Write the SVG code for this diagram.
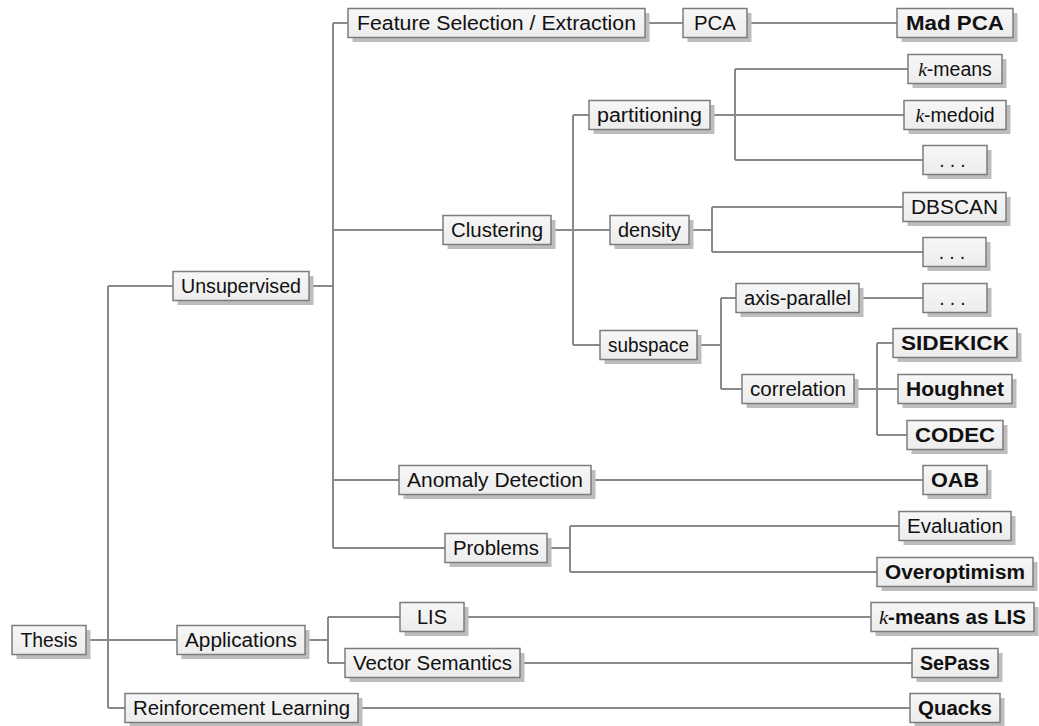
<svg xmlns="http://www.w3.org/2000/svg" width="1039" height="726" viewBox="0 0 1039 726">
<defs>
<linearGradient id="fillg" x1="0" y1="0" x2="0" y2="1">
<stop offset="0" stop-color="#f7f7f7"/>
<stop offset="1" stop-color="#ececec"/>
</linearGradient>
</defs>
<style>
.sh{fill:#bdbdbd}
.bx{fill:url(#fillg);stroke:#7c7c7c;stroke-width:1.5}
.t{font-family:"Liberation Sans",Arial,sans-serif;font-size:19.5px;fill:#111;text-anchor:middle}
.b{font-weight:bold}
.m{font-family:"Liberation Serif","Times New Roman",serif;font-style:italic;font-weight:normal}
.c{fill:none;stroke:#8a8a8a;stroke-width:2}
</style>
<rect width="1039" height="726" fill="#fff"/>
<g id="connectors" class="c">
<path d="M86 640H108M108 286V708M108 286H173M108 640H177M108 708H125"/>
<path d="M309 286H333M333 23V548M333 23H348M333 230H443M333 480H399M333 548H445"/>
<path d="M305 640H328M328 617V663M328 617H400M328 663H345"/>
<path d="M358 708H910"/>
<path d="M645 23H683M747 23H897"/>
<path d="M551 230H573M573 115V345M573 115H589M573 230H610M573 345H600"/>
<path d="M710 115H735M735 69V160M735 69H908M735 115H904M735 160H923"/>
<path d="M689 230H712M712 207V252M712 207H903M712 252H923"/>
<path d="M697 345H721M721 298V389M721 298H736M721 389H742"/>
<path d="M859 298H923"/>
<path d="M854 389H877M877 343V435M877 343H893M877 389H898M877 435H907"/>
<path d="M591 480H923"/>
<path d="M547 548H570M570 526V572M570 526H899M570 572H877"/>
<path d="M464 617H871"/>
<path d="M520 663H912"/>
</g>
<g id="thesis"><rect class="sh" x="16.5" y="630" width="74" height="29"/><rect class="bx" x="12" y="625.5" width="74" height="29"/><text class="t" x="49" y="647" textLength="57" lengthAdjust="spacingAndGlyphs">Thesis</text></g>
<g id="unsupervised"><rect class="sh" x="177.5" y="276" width="136" height="29"/><rect class="bx" x="173" y="271.5" width="136" height="29"/><text class="t" x="241" y="293" textLength="120" lengthAdjust="spacingAndGlyphs">Unsupervised</text></g>
<g id="applications"><rect class="sh" x="181.5" y="630" width="128" height="29"/><rect class="bx" x="177" y="625.5" width="128" height="29"/><text class="t" x="241" y="647" textLength="112" lengthAdjust="spacingAndGlyphs">Applications</text></g>
<g id="reinforcement"><rect class="sh" x="129.5" y="698" width="233" height="29"/><rect class="bx" x="125" y="693.5" width="233" height="29"/><text class="t" x="241.5" y="715" textLength="217" lengthAdjust="spacingAndGlyphs">Reinforcement Learning</text></g>
<g id="featsel"><rect class="sh" x="352.5" y="13" width="297" height="29"/><rect class="bx" x="348" y="8.5" width="297" height="29"/><text class="t" x="496.5" y="30" textLength="279" lengthAdjust="spacingAndGlyphs">Feature Selection / Extraction</text></g>
<g id="pca"><rect class="sh" x="687.5" y="13" width="64" height="29"/><rect class="bx" x="683" y="8.5" width="64" height="29"/><text class="t" x="715" y="30" textLength="42" lengthAdjust="spacingAndGlyphs">PCA</text></g>
<g id="madpca"><rect class="sh" x="901.5" y="13" width="116" height="29"/><rect class="bx" x="897" y="8.5" width="116" height="29"/><text class="t b" x="955" y="30" textLength="98" lengthAdjust="spacingAndGlyphs">Mad PCA</text></g>
<g id="clustering"><rect class="sh" x="447.5" y="220" width="108" height="29"/><rect class="bx" x="443" y="215.5" width="108" height="29"/><text class="t" x="497" y="237" textLength="92" lengthAdjust="spacingAndGlyphs">Clustering</text></g>
<g id="partitioning"><rect class="sh" x="593.5" y="105" width="121" height="29"/><rect class="bx" x="589" y="100.5" width="121" height="29"/><text class="t" x="649.5" y="122" textLength="105" lengthAdjust="spacingAndGlyphs">partitioning</text></g>
<g id="density"><rect class="sh" x="614.5" y="220" width="79" height="29"/><rect class="bx" x="610" y="215.5" width="79" height="29"/><text class="t" x="649.5" y="237" textLength="63" lengthAdjust="spacingAndGlyphs">density</text></g>
<g id="subspace"><rect class="sh" x="604.5" y="335" width="97" height="29"/><rect class="bx" x="600" y="330.5" width="97" height="29"/><text class="t" x="648.5" y="352" textLength="81" lengthAdjust="spacingAndGlyphs">subspace</text></g>
<g id="kmeans"><rect class="sh" x="912.5" y="59" width="94" height="29"/><rect class="bx" x="908" y="54.5" width="94" height="29"/><text class="t" x="955" y="76"><tspan class="m">k</tspan>-means</text></g>
<g id="kmedoid"><rect class="sh" x="908.5" y="105" width="102" height="29"/><rect class="bx" x="904" y="100.5" width="102" height="29"/><text class="t" x="955" y="122"><tspan class="m">k</tspan>-medoid</text></g>
<g id="dots1"><rect class="sh" x="927.5" y="150" width="64" height="29"/><rect class="bx" x="923" y="145.5" width="64" height="29"/><text class="t" x="955" y="167" letter-spacing="5">...</text></g>
<g id="dbscan"><rect class="sh" x="907.5" y="197" width="103" height="29"/><rect class="bx" x="903" y="192.5" width="103" height="29"/><text class="t" x="954.5" y="214" textLength="87" lengthAdjust="spacingAndGlyphs">DBSCAN</text></g>
<g id="dots2"><rect class="sh" x="927.5" y="242" width="63" height="29"/><rect class="bx" x="923" y="237.5" width="63" height="29"/><text class="t" x="954.5" y="259" letter-spacing="5">...</text></g>
<g id="axisparallel"><rect class="sh" x="740.5" y="288" width="123" height="29"/><rect class="bx" x="736" y="283.5" width="123" height="29"/><text class="t" x="797.5" y="305" textLength="107" lengthAdjust="spacingAndGlyphs">axis-parallel</text></g>
<g id="dots3"><rect class="sh" x="927.5" y="288" width="64" height="29"/><rect class="bx" x="923" y="283.5" width="64" height="29"/><text class="t" x="955" y="305" letter-spacing="5">...</text></g>
<g id="correlation"><rect class="sh" x="746.5" y="379" width="112" height="29"/><rect class="bx" x="742" y="374.5" width="112" height="29"/><text class="t" x="798" y="396" textLength="96" lengthAdjust="spacingAndGlyphs">correlation</text></g>
<g id="sidekick"><rect class="sh" x="897.5" y="333" width="124" height="29"/><rect class="bx" x="893" y="328.5" width="124" height="29"/><text class="t b" x="955" y="350" textLength="108" lengthAdjust="spacingAndGlyphs">SIDEKICK</text></g>
<g id="houghnet"><rect class="sh" x="902.5" y="379" width="114" height="29"/><rect class="bx" x="898" y="374.5" width="114" height="29"/><text class="t b" x="955" y="396" textLength="98" lengthAdjust="spacingAndGlyphs">Houghnet</text></g>
<g id="codec"><rect class="sh" x="911.5" y="425" width="96" height="29"/><rect class="bx" x="907" y="420.5" width="96" height="29"/><text class="t b" x="955" y="442" textLength="80" lengthAdjust="spacingAndGlyphs">CODEC</text></g>
<g id="anomaly"><rect class="sh" x="403.5" y="470" width="192" height="29"/><rect class="bx" x="399" y="465.5" width="192" height="29"/><text class="t" x="495" y="487" textLength="176" lengthAdjust="spacingAndGlyphs">Anomaly Detection</text></g>
<g id="oab"><rect class="sh" x="927.5" y="470" width="64" height="29"/><rect class="bx" x="923" y="465.5" width="64" height="29"/><text class="t b" x="955" y="487" textLength="48" lengthAdjust="spacingAndGlyphs">OAB</text></g>
<g id="problems"><rect class="sh" x="449.5" y="538" width="102" height="29"/><rect class="bx" x="445" y="533.5" width="102" height="29"/><text class="t" x="496" y="555" textLength="86" lengthAdjust="spacingAndGlyphs">Problems</text></g>
<g id="evaluation"><rect class="sh" x="903.5" y="516" width="112" height="29"/><rect class="bx" x="899" y="511.5" width="112" height="29"/><text class="t" x="955" y="533" textLength="96" lengthAdjust="spacingAndGlyphs">Evaluation</text></g>
<g id="overoptimism"><rect class="sh" x="881.5" y="562" width="156" height="29"/><rect class="bx" x="877" y="557.5" width="156" height="29"/><text class="t b" x="955" y="579" textLength="140" lengthAdjust="spacingAndGlyphs">Overoptimism</text></g>
<g id="lis"><rect class="sh" x="404.5" y="607" width="64" height="29"/><rect class="bx" x="400" y="602.5" width="64" height="29"/><text class="t" x="432" y="624" textLength="30" lengthAdjust="spacingAndGlyphs">LIS</text></g>
<g id="vecsem"><rect class="sh" x="349.5" y="653" width="175" height="29"/><rect class="bx" x="345" y="648.5" width="175" height="29"/><text class="t" x="432.5" y="670" textLength="159" lengthAdjust="spacingAndGlyphs">Vector Semantics</text></g>
<g id="kmeanslis"><rect class="sh" x="875.5" y="607" width="163" height="29"/><rect class="bx" x="871" y="602.5" width="163" height="29"/><text class="t b" x="952.5" y="624" textLength="147" lengthAdjust="spacingAndGlyphs"><tspan class="m">k</tspan>-means as LIS</text></g>
<g id="sepass"><rect class="sh" x="916.5" y="653" width="86" height="29"/><rect class="bx" x="912" y="648.5" width="86" height="29"/><text class="t b" x="955" y="670" textLength="70" lengthAdjust="spacingAndGlyphs">SePass</text></g>
<g id="quacks"><rect class="sh" x="914.5" y="698" width="90" height="29"/><rect class="bx" x="910" y="693.5" width="90" height="29"/><text class="t b" x="955" y="715" textLength="74" lengthAdjust="spacingAndGlyphs">Quacks</text></g>
</svg>
